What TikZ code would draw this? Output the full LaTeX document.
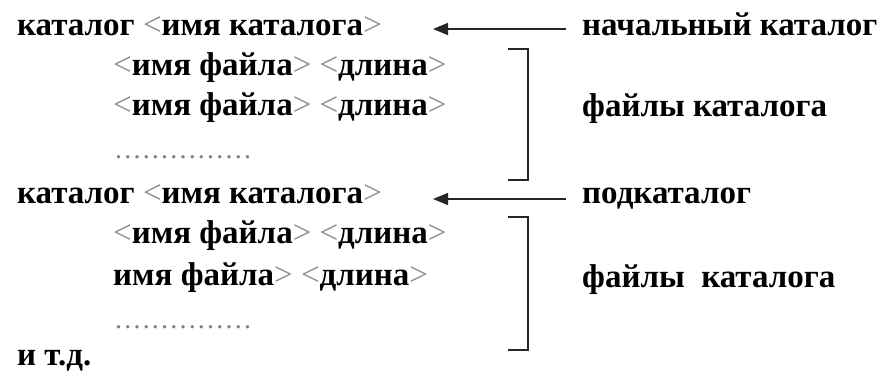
\documentclass[tikz,border=0pt]{standalone}
\usepackage{fontspec}
\setmainfont{Liberation Serif}
\usetikzlibrary{arrows.meta}
\newcommand{\angL}{{\mdseries\color{black!45}<}}
\newcommand{\angR}{{\mdseries\color{black!45}>}}
\newcommand{\dotrow}{{\mdseries\fontsize{28}{30}\selectfont\color{black!50}\foreach \i in {1,...,15}{.\hspace{2.2pt}}}}
\begin{document}
\begin{tikzpicture}[x=1pt,y=-1pt,
  txt/.style={anchor=base west,inner sep=0pt,font=\fontsize{33}{38}\selectfont\bfseries},
  ln/.style={line width=1.5pt,draw=black!85},
  arr/.style={ln,-{Triangle[length=15pt,width=12pt]}}]
\useasboundingbox (0,0) rectangle (883,376);
% left column
\node[txt] (c1) at (17,35) {каталог \angL имя каталога\angR};
\node[txt] (f1) at (113,75) {\angL имя файла\angR{} \angL длина\angR};
\node[txt] (f2) at (113,115) {\angL имя файла\angR{} \angL длина\angR};
\node[txt] (d1) at (115,158) {\dotrow};
\node[txt] (c2) at (17,203) {каталог \angL имя каталога\angR};
\node[txt] (f3) at (113,243) {\angL имя файла\angR{} \angL длина\angR};
\node[txt] (f4) at (113,285) {имя файла\angR{} \angL длина\angR};
\node[txt] (d2) at (115,328) {\dotrow};
\node[txt] (etc) at (17,365) {и т.д.};
% right column
\node[txt] (l1) at (582,35) {начальный каталог};
\node[txt] (l2) at (582,116) {файлы каталога};
\node[txt] (l3) at (582,203) {подкаталог};
\node[txt] (l4) at (582,287) {файлы\ \ каталога};
% arrows
\coordinate (a1s) at (566,29);
\coordinate (a1e) at (433,29);
\coordinate (a2s) at (566,199);
\coordinate (a2e) at (433,199);
\draw[arr] (a1s) -- (a1e);
\draw[arr] (a2s) -- (a2e);
% brackets
\coordinate (b1a) at (508,49);
\coordinate (b1b) at (528,49);
\coordinate (b1c) at (528,180);
\coordinate (b1d) at (508,180);
\draw[ln] (b1a) -- (b1b) -- (b1c) -- (b1d);
\coordinate (b2a) at (508,217);
\coordinate (b2b) at (528,217);
\coordinate (b2c) at (528,350);
\coordinate (b2d) at (508,350);
\draw[ln] (b2a) -- (b2b) -- (b2c) -- (b2d);
\end{tikzpicture}
\end{document}
